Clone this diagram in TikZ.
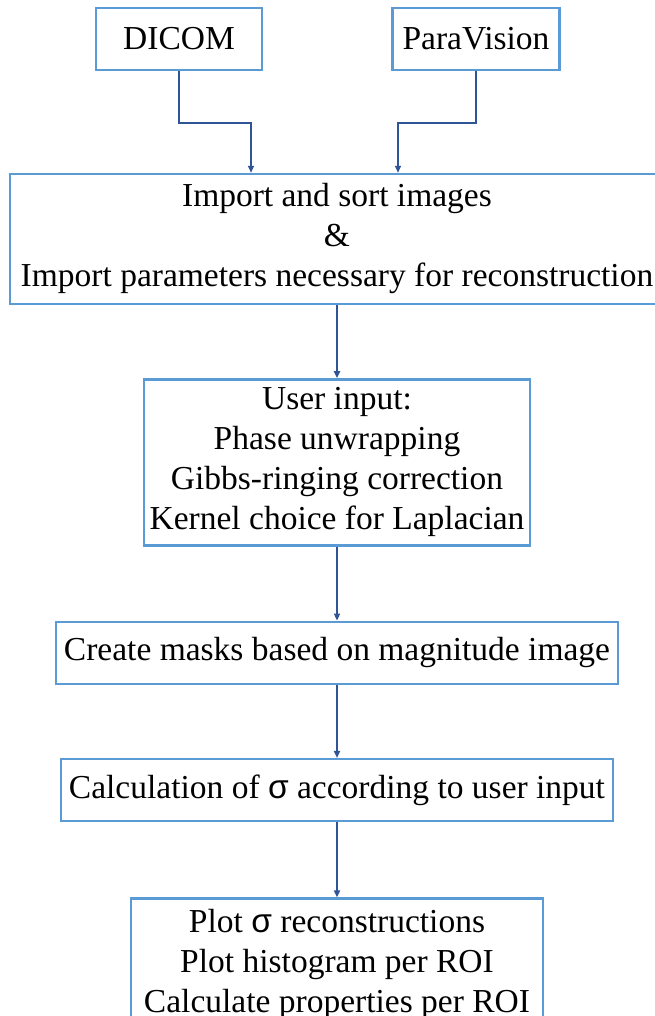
\documentclass[tikz,border=0pt]{standalone}
\usepackage{fontspec}
\setmainfont{Liberation Serif}
\newfontfamily\sigfont{Liberation Sans}
\usetikzlibrary{positioning, arrows.meta, calc}
\definecolor{boxblue}{HTML}{5B9BD5}
\definecolor{arrblue}{HTML}{2F5597}
\tikzset{box/.style={draw=boxblue,line width=2.4pt,align=center,inner sep=0pt},
  arr/.style={->,draw=arrblue,line width=1.8pt}}

\begin{document}
\begin{tikzpicture}[x=1pt,y=1pt,font=\fontsize{33.5}{40}\selectfont,>={Triangle[length=7pt,width=6pt]},node distance=73pt]
  \useasboundingbox (0,0) rectangle (654,1016);
  \node[box,minimum width=166pt,minimum height=62pt](dicom) at (179,977){DICOM};
  \node[box,minimum width=167pt,minimum height=62pt](para) at (476,977){ParaVision};
  \node[box,minimum width=654pt,minimum height=130pt](imp) at (337,777){Import and sort images\\ \&\\ Import parameters necessary for reconstruction};
  \node[box,minimum width=386pt,minimum height=166pt,below=of imp](user){User input:\\ Phase unwrapping\\ Gibbs-ringing correction\\ Kernel choice for Laplacian};
  \node[box,minimum width=562pt,minimum height=62pt,below=74pt of user](mask){Create masks based on magnitude image};
  \node[box,minimum width=552pt,minimum height=62pt,below=of mask](calc){Calculation of {\sigfont σ} according to user input};
  \node[box,minimum width=412pt,minimum height=132pt,below=75pt of calc](plot){Plot {\sigfont σ} reconstructions\\ Plot histogram per ROI\\ Calculate properties per ROI};
  \draw[arr](dicom.south)--++(0,-52)-|([xshift=-86pt]imp.north);
  \draw[arr](para.south)--++(0,-52)-|([xshift=61pt]imp.north);
  \draw[arr](imp)--(user);\draw[arr](user)--(mask);
  \draw[arr](mask)--(calc);\draw[arr](calc)--(plot);
\end{tikzpicture}
\end{document}
